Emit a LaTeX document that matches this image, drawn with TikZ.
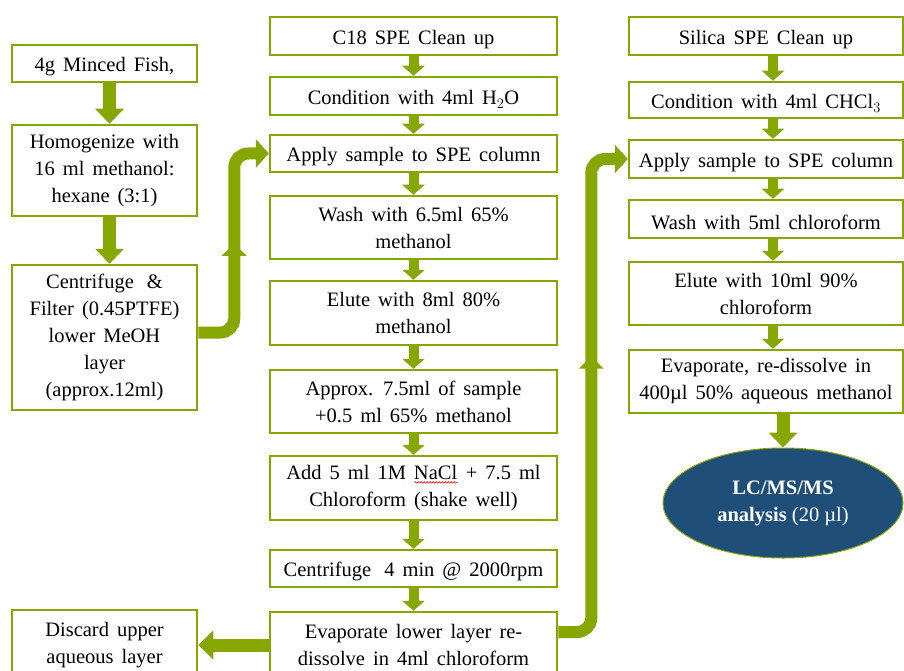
\documentclass[tikz,border=0pt]{standalone}
\usepackage{fontspec}
\setmainfont{Liberation Serif}
\usetikzlibrary{arrows.meta,shapes.geometric,decorations.markings,decorations.pathmorphing}
\definecolor{grn}{RGB}{134,166,0}
\definecolor{navy}{RGB}{31,78,121}
\newlength\wavelen
\newcommand\redwave[1]{\settowidth\wavelen{#1}\rlap{#1}\tikz[baseline=0pt]{\draw[red, line width=0.6pt, decorate, decoration={snake, amplitude=0.8pt, segment length=3pt}] (0pt,-3pt) -- (\wavelen,-3pt);}}
\newcommand\boxfont{\fontsize{20.5}{27}\selectfont\spaceskip=8pt plus 2pt minus 1pt\relax}
\newcommand\topstrut{\leavevmode\vrule height 21pt depth 0pt width 0pt\relax}
\begin{document}
\begin{tikzpicture}[x=1pt,y=-1pt,
  box/.style={draw=grn, line width=2.5pt, fill=white, align=center,
    font=\boxfont, inner sep=0pt,
    execute at begin node=\topstrut},
  lbox/.style={box, minimum width=185pt},
  mbox/.style={box, minimum width=287pt},
  rbox/.style={box, minimum width=274pt},
  bigarrow/.style={draw=grn, line width=13pt, -{Triangle[width=28pt,length=15pt]}},
  smallarrow/.style={draw=grn, line width=10pt, -{Triangle[width=22pt,length=10pt]}},
  conn/.style={draw=grn, line width=12pt, rounded corners=14pt,
    -{Triangle[width=28pt,length=13pt]},
    postaction={decorate},
    decoration={markings, mark=at position #1 with {\arrow{Triangle[width=24pt,length=12pt]}}}},
  ]
\useasboundingbox (0,0) rectangle (904,671);
\clip (0,0) rectangle (904,671);
\fill[white] (0,0) rectangle (904,671);

% left column
\node[lbox, minimum height=37pt] (fish) at (104.5,63.5) {4g Minced Fish,};
\node[lbox, minimum height=91pt] (homog) at (104.5,170.5) {Homogenize with\\16 ml methanol:\\hexane (3:1)};
\node[lbox, minimum height=145pt] (centri) at (104.5,337.5) {Centrifuge\hspace{13pt}\&\\Filter (0.45PTFE)\\lower MeOH\\layer\\(approx.12ml)};
\node[lbox, minimum height=70pt] (discard) at (104.5,645) {Discard upper\\aqueous layer};

% middle column
\node[mbox, minimum height=38pt] (c18) at (413.5,36) {C18 SPE Clean up};
\node[mbox, minimum height=38pt] (cond) at (413.5,96) {Condition with 4ml H$_2$O};
\node[mbox, minimum height=37pt] (apply) at (413.5,153.5) {Apply sample to SPE column};
\node[mbox, minimum height=63pt] (wash) at (413.5,227.5) {Wash with 6.5ml 65\%\\methanol};
\node[mbox, minimum height=64pt] (elute) at (413.5,313) {Elute with 8ml 80\%\\methanol};
\node[mbox, minimum height=63pt] (approx) at (413.5,401.5) {Approx. 7.5ml of sample\\+0.5 ml 65\% methanol};
\node[mbox, minimum height=64pt] (add) at (413.5,488) {Add 5 ml 1M \redwave{NaCl} + 7.5 ml\\Chloroform (shake well)};
\node[mbox, minimum height=37pt] (cent) at (413.5,568.5) {Centrifuge\hspace{13pt}4 min @ 2000rpm};
\node[mbox, minimum height=66pt] (evap) at (413.5,645) {Evaporate lower layer re-\\dissolve in 4ml chloroform};

% right column
\node[rbox, minimum height=38pt] (silica) at (766,36) {Silica SPE Clean up};
\node[rbox, minimum height=36pt] (cond2) at (766,100) {Condition with 4ml CHCl$_3$};
\node[rbox, minimum height=38pt] (apply2) at (766,159) {Apply sample to SPE column};
\node[rbox, minimum height=38pt] (wash2) at (766,219) {Wash with 5ml chloroform};
\node[rbox, minimum height=63pt] (elute2) at (766,293.5) {Elute with 10ml 90\%\\chloroform};
\node[rbox, minimum height=63pt] (evap2) at (766,381.5) {Evaporate, re-dissolve in\\400µl 50\% aqueous methanol};
\node[ellipse, fill=navy, draw=grn, line width=1pt, minimum width=240pt, minimum height=110pt,
  inner sep=0pt, text=white, align=center, font=\fontsize{20.5}{27}\selectfont] (lcms) at (783,503)
  {\textbf{LC/MS/MS}\\\textbf{analysis} (20 µl)};

% left arrows
\draw[bigarrow] ([xshift=5pt]fish.south) -- ([xshift=5pt]homog.north);
\draw[bigarrow] ([xshift=5pt]homog.south) -- ([xshift=5pt]centri.north);

% middle arrows
\foreach \a/\b in {c18/cond, cond/apply, apply/wash, wash/elute, elute/approx, approx/add, add/cent, cent/evap}
  \draw[smallarrow] (\a.south) -- (\b.north);

% right arrows
\foreach \a/\b in {silica/cond2, cond2/apply2, apply2/wash2, wash2/elute2, elute2/evap2}
  \draw[smallarrow] ([xshift=7pt]\a.south) -- ([xshift=7pt]\b.north);
\draw[bigarrow] (evap2.south -| lcms.north) -- (lcms.north);

% discard
\draw[bigarrow] (evap.west) -- (discard.east);

% connectors
\draw[conn=0.5] ([yshift=5pt]centri.east) -- ++(36,0) |- (apply.west);
\draw[conn=0.57] ([yshift=13pt]evap.east) -- ++(33,0) |- (apply2.west);
\end{tikzpicture}
\end{document}
